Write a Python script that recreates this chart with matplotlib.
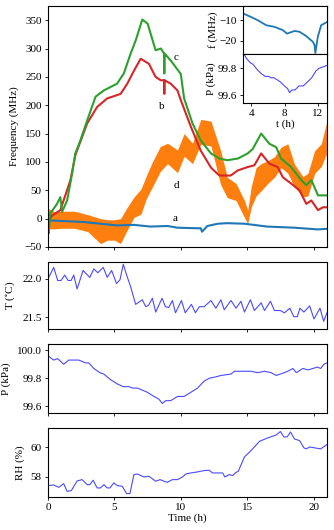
import numpy as np
from matplotlib import pyplot as plt

plt.rcParams['font.family'] = ['Liberation Serif', 'DejaVu Serif']
plt.rcParams['font.size'] = 8
plt.rcParams['mathtext.fontset'] = 'stix'

# main panel: frequency traces (MHz) vs time (h)
t_a = [0, 2.7, 3.95, 5.2, 6.47, 7.7, 9.0, 9.75, 11.26, 11.5, 11.6, 12.0, 12.78,
       13.5, 14.8, 16.5, 18.56, 20.3, 21.0]
f_a = [-3, -6, -9, -12, -11, -14, -13, -16, -17, -17, -23, -13, -9,
       -8, -9, -14, -16, -19, -18]

t_b = [0, 0.3, 0.93, 1.69, 2.06, 2.95, 3.7, 4.46, 5.47, 5.97, 6.5, 6.98, 7.6, 8.1,
       8.49, 8.74, 8.76, 8.78, 9.24, 9.75, 10.0, 10.76, 11.5, 12.27, 12.9, 13.76,
       14.29, 15.04, 15.54, 16.05, 16.67, 17.3, 17.68, 18.3, 18.94, 19.45, 19.83,
       20.33, 20.7, 21.0]
f_b = [-5, 5, 15, 68, 112, 168, 197, 212, 220, 238, 262, 282, 273, 250,
       244, 244, 220, 244, 238, 226, 209, 162, 120, 90, 76, 76,
       85, 91, 94, 115, 97, 91, 73, 62, 50, 26, 32,
       15, 20, 20]

t_c = [0, 0.05, 0.17, 0.68, 0.93, 1.06, 1.44, 1.81, 2.06, 2.44, 2.95, 3.58, 4.2,
       5.2, 5.71, 6.22, 6.6, 7.1, 7.5, 8.1, 8.5, 8.74, 8.76, 8.78, 9.24, 10.0,
       10.25, 10.88, 11.5, 12.27, 12.9, 13.5, 14.3, 15.04, 15.42, 16.05, 16.67,
       17.18, 17.55, 18.3, 19.07, 19.45, 19.83, 20.33, 21.0]
f_c = [-5, -26, 9, 26, 38, 12, 32, 79, 115, 138, 173, 215, 226,
       238, 256, 291, 314, 351, 344, 297, 300, 291, 256, 291, 279, 255,
       212, 168, 138, 115, 106, 103, 106, 115, 123, 150, 132,
       126, 106, 91, 68, 59, 68, 41, 41]

t_d = [0, 0.5, 1, 2, 3, 3.95, 4.5, 5, 5.46, 5.97, 6.47, 7.0, 7.4, 7.8, 8.45, 9.0,
       9.75, 10.25, 10.88, 11.5, 12.27, 13.0, 13.5, 14.16, 14.79, 15.04, 15.3,
       15.67, 16.05, 16.55, 17.05, 17.55, 18.06, 18.56, 19.2, 19.57, 20.08, 20.58,
       21.0]
d_mid = [0, -3, -2, -2, -8, -22, -20, -20, -22, 0, 20, 30, 55, 75, 105, 115,
         101, 130, 115, 153, 150, 90, 55, 47, 17, 3, 38,
         65, 73, 82, 91, 108, 106, 76, 56, 60, 100, 112,
         144]
d_half = [18, 15, 15, 15, 15, 22, 18, 18, 22, 20, 18, 22, 20, 22, 22, 18,
          20, 20, 18, 22, 22, 30, 18, 15, 15, 12, 18,
          25, 24, 20, 18, 18, 26, 20, 18, 20, 20, 20,
          28]

# inset: trace a close-up
t_in = [3.1, 4, 4.8, 5.8, 6.8, 7.8, 8.3, 9.2, 9.8, 10.6, 11.4, 11.6, 11.7, 12, 12.4, 13.1]
f_in = [-6.8, -8.4, -10, -12.4, -13.2, -14.8, -16.5, -15.2, -15.6, -17.7, -20.5,
        -22, -26, -18, -12.4, -10.8]

# environment: temperature (C)
t_T = [0, 0.43, 0.73, 0.98, 1.26, 1.51, 1.74, 1.94, 2.19, 2.64, 3.15, 3.45, 3.75,
       4.16, 4.46, 4.79, 5.16, 5.42, 5.67, 5.92, 6.22, 6.6, 7.1, 7.36, 7.58, 7.86,
       8.11, 8.59, 8.84, 9.09, 9.37, 9.6, 10.05, 10.33, 10.8, 11.1, 11.39, 11.76,
       12.27, 12.64, 13.02, 13.27, 13.78, 14.16, 14.53, 14.79, 15.24, 15.54, 16.05,
       16.3, 16.75, 17.05, 17.5, 17.8, 18.21, 18.51, 18.77, 18.97, 19.27, 19.7,
       20.03, 20.48, 20.76, 21.0]
T = [22.0, 22.15, 21.98, 21.98, 22.05, 21.98, 21.98, 22.05, 21.87, 22.11, 22.02,
     22.13, 22.08, 22.15, 22.02, 22.11, 21.94, 21.99, 22.19, 22.05, 21.9, 21.67,
     21.73, 21.64, 21.66, 21.75, 21.57, 21.75, 21.64, 21.63, 21.72, 21.56, 21.72,
     21.56, 21.67, 21.56, 21.64, 21.64, 21.72, 21.62, 21.73, 21.6, 21.72, 21.62,
     21.71, 21.57, 21.73, 21.59, 21.69, 21.59, 21.71, 21.59, 21.59, 21.56, 21.62,
     21.51, 21.51, 21.62, 21.57, 21.65, 21.48, 21.62, 21.45, 21.56]

# pressure (kPa)
t_P = [0, 0.43, 0.73, 1.18, 1.56, 1.94, 2.32, 2.82, 3.07, 3.45, 3.9, 4.2, 4.71,
       5.21, 5.67, 6.1, 6.35, 6.73, 7.23, 7.48, 7.98, 8.36, 8.61, 8.87, 9.24, 9.75,
       10.25, 10.76, 11.26, 11.76, 12.14, 12.64, 13.02, 13.78, 14.03, 15.29, 15.79,
       16.3, 16.8, 17.18, 17.8, 18.06, 18.44, 18.7, 19.19, 19.57, 19.95, 20.28,
       20.53, 20.78, 21.0]
P = [99.96, 99.93, 99.94, 99.90, 99.93, 99.93, 99.93, 99.91, 99.91, 99.87, 99.84,
     99.83, 99.79, 99.76, 99.74, 99.74, 99.73, 99.73, 99.71, 99.70, 99.67, 99.65,
     99.62, 99.64, 99.64, 99.67, 99.67, 99.70, 99.73, 99.78, 99.80, 99.81, 99.82,
     99.83, 99.85, 99.85, 99.84, 99.85, 99.84, 99.82, 99.84, 99.85, 99.87, 99.84,
     99.87, 99.86, 99.87, 99.88, 99.87, 99.90, 99.91]

# relative humidity (%)
t_RH = [0, 0.43, 0.81, 1.18, 1.44, 1.76, 2.19, 2.57, 2.95, 3.15, 3.4, 3.7, 3.95,
        4.21, 4.46, 4.66, 4.96, 5.21, 5.59, 5.92, 6.17, 6.47, 6.73, 7.23, 7.61,
        8.11, 8.44, 8.74, 8.99, 9.37, 9.75, 10.13, 10.38, 10.76, 11.26, 11.76,
        12.14, 12.39, 13.15, 13.32, 13.65, 13.9, 14.16, 14.33, 14.79, 15.16, 15.54,
        15.92, 16.55, 17.18, 17.5, 17.76, 18.01, 18.26, 18.56, 18.94, 19.27, 19.45,
        19.7, 20.08, 20.53, 21.0]
RH = [57.42, 57.46, 57.3, 57.55, 57.03, 57.08, 57.73, 57.82, 57.48, 57.48, 57.78,
      57.26, 57.26, 57.48, 57.26, 57.26, 57.6, 57.42, 57.37, 56.88, 56.88, 58.16,
      58.2, 58.0, 58.04, 57.71, 57.82, 57.71, 57.64, 57.82, 57.82, 58.0, 58.2,
      58.27, 58.34, 58.43, 58.45, 58.27, 58.27, 58.0, 58.16, 58.09, 58.31, 58.38,
      59.35, 59.66, 60.02, 60.4, 60.63, 60.83, 61.06, 60.7, 60.7, 61.03, 60.56,
      60.45, 59.96, 59.89, 60.02, 59.96, 59.89, 60.18]

env_color = '#4a4aff'

fig = plt.figure(figsize=(3.34, 5.30), dpi=100)

ax = fig.add_axes([0.1437, 0.534, 0.835, 0.4547])
d_mid = np.array(d_mid)
d_half = np.array(d_half)
ax.fill_between(t_d, d_mid - d_half, d_mid + d_half, color='C1', lw=0)
ax.plot(t_a, f_a, color='C0', lw=1.5)
ax.plot(t_b, f_b, color='C3', lw=1.5)
ax.plot(t_c, f_c, color='C2', lw=1.5)
ax.text(9.6, 0, 'a', ha='center', va='center')
ax.text(8.6, 197, 'b', ha='center', va='center')
ax.text(9.67, 285, 'c', ha='center', va='center')
ax.text(9.7, 59, 'd', ha='center', va='center')
ax.set_xlim(0, 21)
ax.set_ylim(-50, 375)
ax.set_yticks([-50, 0, 50, 100, 150, 200, 250, 300, 350])
ax.set_xticks([0, 5, 10, 15, 20])
ax.set_xticklabels([])
ax.set_ylabel('Frequency (MHz)')

# insets
ax_if = fig.add_axes([0.7275, 0.898, 0.2515, 0.0906])
ax_if.plot(t_in, f_in, color='C0', lw=1.3)
ax_if.set_xlim(3, 13.1)
ax_if.set_ylim(-26.5, -3)
ax_if.set_yticks([-10, -20])
ax_if.set_xticks([4, 8, 12])
ax_if.set_xticklabels([])
ax_if.set_ylabel('f (MHz)', labelpad=1)

ax_ip = fig.add_axes([0.7275, 0.8057, 0.2515, 0.0923])
ax_ip.plot(t_P, P, color=env_color, lw=0.8)
ax_ip.set_xlim(3, 13.1)
ax_ip.set_ylim(99.544, 99.905)
ax_ip.set_yticks([99.6, 99.8])
ax_ip.set_xticks([4, 8, 12])
ax_ip.set_xlabel('t (h)', labelpad=1)
ax_ip.set_ylabel('P (kPa)', labelpad=1)

ax_T = fig.add_axes([0.1437, 0.3792, 0.835, 0.1265])
ax_T.plot(t_T, T, color=env_color, lw=0.8)
ax_T.set_xlim(0, 21)
ax_T.set_ylim(21.35, 22.22)
ax_T.set_yticks([21.5, 22.0])
ax_T.set_xticks([0, 5, 10, 15, 20])
ax_T.set_xticklabels([])
ax_T.set_ylabel('T ($^{\\circ}$C)')

ax_P = fig.add_axes([0.1437, 0.2208, 0.835, 0.1302])
ax_P.plot(t_P, P, color=env_color, lw=0.8)
ax_P.set_xlim(0, 21)
ax_P.set_ylim(99.552, 100.045)
ax_P.set_yticks([99.6, 99.8, 100.0])
ax_P.set_xticks([0, 5, 10, 15, 20])
ax_P.set_xticklabels([])
ax_P.set_ylabel('P (kPa)')

ax_R = fig.add_axes([0.1437, 0.0623, 0.835, 0.1302])
ax_R.plot(t_RH, RH, color=env_color, lw=0.8)
ax_R.set_xlim(0, 21)
ax_R.set_ylim(56.65, 61.3)
ax_R.set_yticks([58, 60])
ax_R.set_xticks([0, 5, 10, 15, 20])
ax_R.set_ylabel('RH (%)')
ax_R.set_xlabel('Time (h)', labelpad=1)

for a in [ax, ax_if, ax_ip, ax_T, ax_P, ax_R]:
    a.tick_params(length=2.5, width=0.6, pad=2)

fig.align_ylabels([ax_T, ax_P, ax_R])
fig.savefig('out.png', dpi=100)
